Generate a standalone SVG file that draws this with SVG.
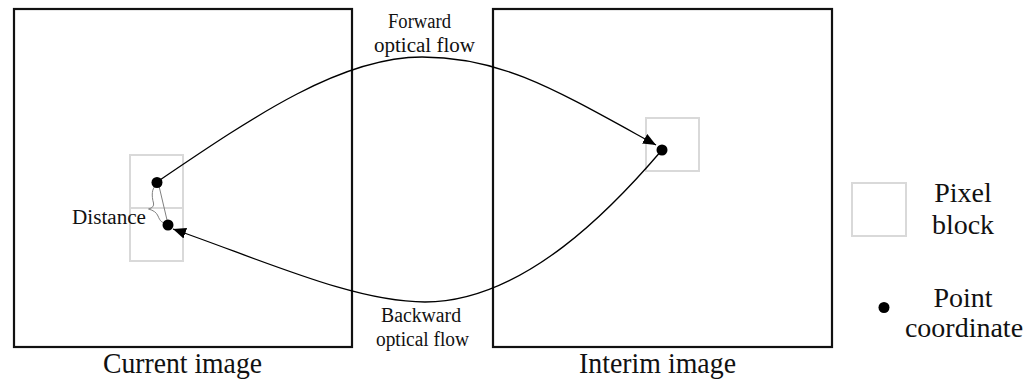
<svg xmlns="http://www.w3.org/2000/svg" width="1035" height="383" viewBox="0 0 1035 383">
  <style>
    .frame{fill:none;stroke:#111;stroke-width:2.2}
    .block{fill:none;stroke:#d9d9d9;stroke-width:2}
    .flow{fill:none;stroke:#000;stroke-width:1.3}
    .pt{fill:#000}
    .t{font-family:"Liberation Serif","Times New Roman",serif;fill:#111}
    .lbl{font-size:20px}
    .big{font-size:29px}
    .leg{font-size:28px}
  </style>
  <defs>
    <marker id="arr" markerUnits="userSpaceOnUse" markerWidth="14" markerHeight="12" refX="13" refY="5.5" orient="auto">
      <path d="M0,0 L13,5.5 L0,11 z" fill="#000"/>
    </marker>
  </defs>
  <rect width="1035" height="383" fill="#fff"/>

  <g id="current-image">
    <rect class="frame" x="14" y="9" width="338" height="338"/>
    <text class="t big" x="103" y="373" textLength="159" lengthAdjust="spacingAndGlyphs">Current image</text>
  </g>
  <g id="interim-image">
    <rect class="frame" x="493" y="9" width="339" height="338"/>
    <text class="t big" x="579" y="373" textLength="157" lengthAdjust="spacingAndGlyphs">Interim image</text>
  </g>

  <g id="pixel-blocks">
    <rect class="block" x="130" y="155" width="53" height="53"/>
    <rect class="block" x="130" y="208" width="53" height="53"/>
    <rect class="block" x="646" y="118" width="53" height="53"/>
  </g>

  <g id="connectors">
    <path class="flow" d="M157,182 C257,114 342,57 422,57 C502,57 556,90 656,145" marker-end="url(#arr)"/>
    <path class="flow" d="M662,150 C615,205 525,302 425,302 C355,302 266,261.5 173,229" marker-end="url(#arr)"/>
  </g>

  <g id="forward-label">
    <text class="t lbl" x="388" y="28" textLength="63" lengthAdjust="spacingAndGlyphs">Forward</text>
    <text class="t lbl" x="374" y="52" textLength="101" lengthAdjust="spacingAndGlyphs">optical flow</text>
  </g>
  <g id="backward-label">
    <text class="t lbl" x="381" y="322" textLength="80" lengthAdjust="spacingAndGlyphs">Backward</text>
    <text class="t lbl" x="376" y="346" textLength="93" lengthAdjust="spacingAndGlyphs">optical flow</text>
  </g>

  <g id="distance">
    <path d="M156.5,185 C151.5,188 151.5,196 153.5,203 Q154.5,207.5 148.5,209 Q156,211 158,216 C160,221 162,223 166,223" fill="none" stroke="#808080" stroke-width="1"/>
    <line x1="159" y1="186" x2="167" y2="220" stroke="#808080" stroke-width="1"/>
    <text class="t lbl" x="72" y="224" textLength="74" lengthAdjust="spacingAndGlyphs">Distance</text>
  </g>

  <g id="points">
    <circle class="pt" cx="157" cy="182.5" r="5.5"/>
    <circle class="pt" cx="168" cy="225" r="5.5"/>
    <circle class="pt" cx="662" cy="150" r="5.5"/>
  </g>

  <g id="legend-pixel-block">
    <rect class="block" x="852" y="183" width="54" height="53"/>
    <text class="t leg" x="963" y="202" text-anchor="middle">Pixel</text>
    <text class="t leg" x="963" y="234" text-anchor="middle">block</text>
  </g>
  <g id="legend-point">
    <circle class="pt" cx="884" cy="307.5" r="5.5"/>
    <text class="t leg" x="963" y="307" text-anchor="middle">Point</text>
    <text class="t leg" x="964" y="337" text-anchor="middle">coordinate</text>
  </g>
</svg>
